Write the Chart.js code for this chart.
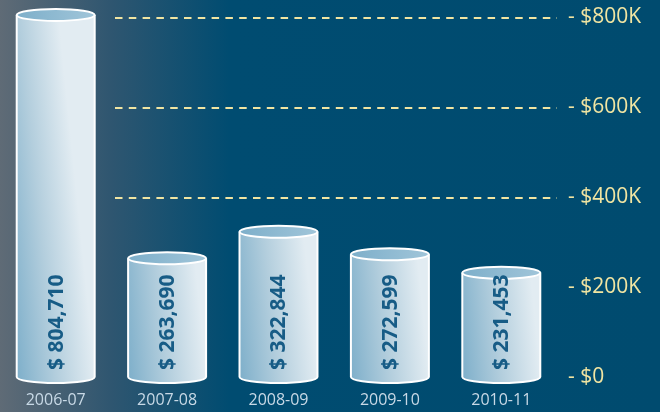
<!DOCTYPE html>
<html>
<head>
<meta charset="utf-8">
<script src="https://cdn.jsdelivr.net/npm/chart.js@4.4.1/dist/chart.umd.min.js"></script>
<style>
    html, body { margin: 0; padding: 0; }
    #fundo {
        width: 660px;
        height: 412px;
        background: linear-gradient(to right, #5f6b76 0px, #2f5670 110px, #004c71 230px, #004b6f 660px);
    }
</style>
</head>
<body>
<div id="fundo"><canvas id="grafico" width="660" height="412"></canvas></div>
<script>
// dados do gráfico
const anos = ['2006-07', '2007-08', '2008-09', '2009-10', '2010-11'];
const valores = [804710, 263690, 322844, 272599, 231453];
const ticksY = [0, 200000, 400000, 600000, 800000];
const rotulosY = ['- $0', '- $200K', '- $400K', '- $600K', '- $800K'];
const linhasTracejadas = [400000, 600000, 800000];

const amarelo = '#f1e5a2';

// linhas tracejadas atrás dos cilindros
const grade = {
    id: 'grade',
    beforeDatasetsDraw(chart) {
        const ctx = chart.ctx;
        const escala = chart.scales.y;
        ctx.save();
        ctx.strokeStyle = amarelo;
        ctx.lineWidth = 2;
        ctx.setLineDash([7.5, 6.3]);
        linhasTracejadas.forEach(function (v) {
            const y = Math.round(escala.getPixelForValue(v)) + 1;
            ctx.beginPath();
            ctx.moveTo(115, y);
            ctx.lineTo(chart.chartArea.right, y);
            ctx.stroke();
        });
        ctx.restore();
    }
};

// desenha cada barra como um cilindro
const cilindros = {
    id: 'cilindros',
    afterDatasetsDraw(chart) {
        const ctx = chart.ctx;
        const meta = chart.getDatasetMeta(0);
        meta.data.forEach(function (barra, i) {
            const p = barra.getProps(['x', 'y', 'base', 'width'], true);
            const esq = p.x - p.width / 2;
            const dir = p.x + p.width / 2;
            const rx = p.width / 2;
            const ry = 6;

            ctx.save();
            ctx.lineWidth = 2;
            ctx.strokeStyle = '#ffffff';

            // corpo
            const grad = ctx.createLinearGradient(esq, p.base, dir, p.base - 8);
            grad.addColorStop(0, '#7eafca');
            grad.addColorStop(0.5, '#b3cedd');
            grad.addColorStop(1, '#e2ecf2');
            ctx.beginPath();
            ctx.moveTo(esq, p.y);
            ctx.lineTo(esq, p.base);
            ctx.ellipse(p.x, p.base, rx, ry, 0, Math.PI, 0, true);
            ctx.lineTo(dir, p.y);
            ctx.closePath();
            ctx.fillStyle = grad;
            ctx.fill();
            ctx.beginPath();
            ctx.moveTo(esq, p.y);
            ctx.lineTo(esq, p.base);
            ctx.ellipse(p.x, p.base, rx, ry, 0, Math.PI, 0, true);
            ctx.lineTo(dir, p.y);
            ctx.stroke();

            // tampa
            const gradTopo = ctx.createLinearGradient(esq, p.y, dir, p.y);
            gradTopo.addColorStop(0, '#7eafca');
            gradTopo.addColorStop(1, '#a0c5d9');
            ctx.beginPath();
            ctx.ellipse(p.x, p.y, rx, ry, 0, 0, Math.PI * 2);
            ctx.fillStyle = gradTopo;
            ctx.fill();
            ctx.stroke();

            // valor na vertical
            ctx.translate(p.x, p.base - 7);
            ctx.rotate(-Math.PI / 2);
            ctx.font = 'bold 21px "Open Sans"';
            ctx.fillStyle = '#175c86';
            ctx.textAlign = 'left';
            ctx.textBaseline = 'middle';
            ctx.fillText('$ ' + valores[i].toLocaleString('en-US'), 0, 1);
            ctx.restore();
        });
    }
};

const ctx = document.getElementById('grafico').getContext('2d');
new Chart(ctx, {
    type: 'bar',
    data: {
        labels: anos,
        datasets: [{
            data: valores,
            backgroundColor: 'rgba(0,0,0,0)',
            borderWidth: 0,
            barPercentage: 0.7,
            categoryPercentage: 1.0
        }]
    },
    options: {
        responsive: false,
        animation: false,
        devicePixelRatio: 1,
        layout: {
            padding: { top: 17, left: 0, right: 0, bottom: 0 }
        },
        plugins: {
            legend: { display: false },
            tooltip: { enabled: false }
        },
        scales: {
            x: {
                grid: { display: false, drawTicks: false },
                border: { display: false },
                afterFit: function (scale) {
                    scale.height = 35;
                },
                ticks: {
                    color: '#c8d9e6',
                    font: { family: 'Open Sans', size: 16 },
                    padding: 14,
                    maxRotation: 0
                }
            },
            y: {
                position: 'right',
                min: 0,
                max: 800000,
                grid: { display: false, drawTicks: false },
                border: { display: false },
                afterBuildTicks: function (scale) {
                    scale.ticks = ticksY.map(v => ({ value: v }));
                },
                afterFit: function (scale) {
                    scale.width = 103;
                    scale.paddingTop = 0;
                    scale.paddingBottom = 0;
                },
                ticks: {
                    color: amarelo,
                    font: { family: 'Open Sans', size: 21 },
                    padding: 11,
                    callback: function (value, index) {
                        return rotulosY[index];
                    }
                }
            }
        }
    },
    plugins: [grade, cilindros]
});
</script>
</body>
</html>
